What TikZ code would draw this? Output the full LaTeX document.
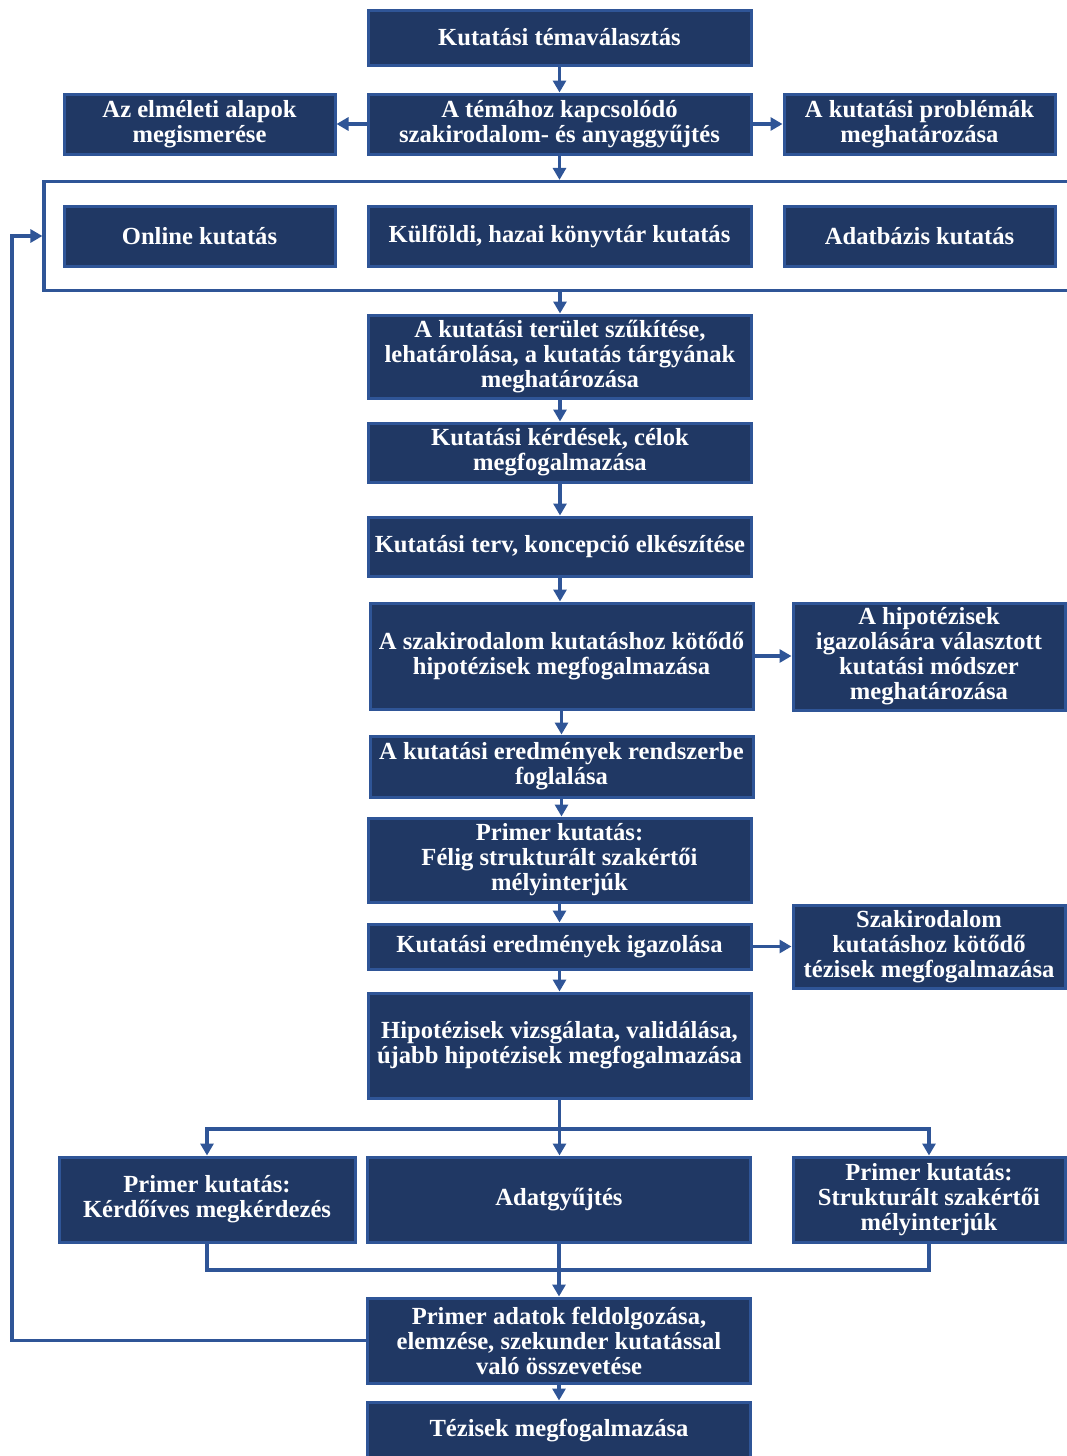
\documentclass[tikz,border=0pt]{standalone}
\usepackage{fontspec}
\setmainfont{Liberation Serif}
\usetikzlibrary{arrows.meta,shadows}
\definecolor{boxfill}{HTML}{203864}
\definecolor{boxline}{HTML}{2F5597}
\definecolor{wire}{HTML}{2F5597}
\definecolor{haze}{HTML}{D3DEF0}

\begin{document}
\begin{tikzpicture}[x=1pt,y=-1pt,
  stepbox/.style={draw=boxline, fill=boxfill, line width=3pt, text=white,
    align=center, inner sep=0pt,
    font=\bfseries\fontsize{24.6}{25}\selectfont,
    drop shadow={shadow xshift=1.5pt, shadow yshift=-2pt, fill=haze, opacity=1}},
  wide/.style={minimum width=383pt},
  side/.style={minimum width=271pt},
  flow/.style={draw=wire, line width=3.2pt, -{Triangle[length=12pt,width=13pt]}},
  link/.style={draw=wire, line width=3.2pt},
]
\useasboundingbox (0,0) rectangle (1067,1456);
\clip (0,0) rectangle (1067,1456);

% --- top: topic choice and literature collection
\node[stepbox, wide, minimum height=55pt] (topic) at (559.5,37.5) {Kutatási témaválasztás};
\node[stepbox, wide, minimum height=60pt] (lit) at (559.5,124) {A témához kapcsolódó\\szakirodalom- és anyaggyűjtés};
\node[stepbox, side, minimum height=60pt] (theory) at (199.5,124) {Az elméleti alapok\\megismerése};
\node[stepbox, side, minimum height=60pt] (problems) at (919.5,124) {A kutatási problémák\\meghatározása};

% --- frame around the three research channels
\node[draw=wire, line width=3.2pt, inner sep=0pt, minimum width=1032pt, minimum height=109pt] (frame) at (560,236) {};
\node[stepbox, side, minimum height=60pt] (online) at (199.5,236) {Online kutatás};
\node[stepbox, wide, minimum height=60pt] (library) at (559.5,236) {Külföldi, hazai könyvtár kutatás};
\node[stepbox, side, minimum height=60pt] (database) at (919.5,236) {Adatbázis kutatás};

% --- main column
\node[stepbox, wide, minimum height=83pt] (narrowing) at (560,356.5) {A kutatási terület szűkítése,\\lehatárolása, a kutatás tárgyának\\meghatározása};
\node[stepbox, wide, minimum height=59pt] (questions) at (560,452.5) {Kutatási kérdések, célok\\megfogalmazása};
\node[stepbox, wide, minimum height=59pt] (plan) at (560,546.5) {Kutatási terv, koncepció elkészítése};
\node[stepbox, wide, minimum height=106pt] (hypo) at (561.5,656) {A szakirodalom kutatáshoz kötődő\\hipotézisek megfogalmazása};
\node[stepbox, minimum width=272pt, minimum height=107pt] (method) at (929,656.5) {A hipotézisek\\igazolására választott\\kutatási módszer\\meghatározása};
\node[stepbox, wide, minimum height=61pt] (system) at (561.5,766.5) {A kutatási eredmények rendszerbe\\foglalása};
\node[stepbox, wide, minimum height=84pt] (semi) at (559.5,860) {Primer kutatás:\\Félig strukturált szakértői\\mélyinterjúk};
\node[stepbox, wide, minimum height=45pt] (verify) at (559.5,946.5) {Kutatási eredmények igazolása};
\node[stepbox, minimum width=272pt, minimum height=83pt] (litthesis) at (929,946.5) {Szakirodalom\\kutatáshoz kötődő\\tézisek megfogalmazása};
\node[stepbox, wide, minimum height=105pt] (testing) at (559.5,1045.5) {Hipotézisek vizsgálata, validálása,\\újabb hipotézisek megfogalmazása};

% --- data collection branches
\node[stepbox, minimum width=296pt, minimum height=85pt] (survey) at (207,1199.5) {Primer kutatás:\\Kérdőíves megkérdezés};
\node[stepbox, wide, minimum height=85pt] (data) at (559,1199.5) {Adatgyűjtés};
\node[stepbox, minimum width=272pt, minimum height=85pt] (structured) at (929,1199.5) {Primer kutatás:\\Strukturált szakértői\\mélyinterjúk};

% --- processing and theses
\node[stepbox, wide, minimum height=85pt] (process) at (559,1340.5) {Primer adatok feldolgozása,\\elemzése, szekunder kutatással\\való összevetése};
\node[stepbox, wide, minimum height=58pt] (theses) at (559,1431) {Tézisek megfogalmazása};

% --- connectors
\draw[flow] (topic.south) -- (lit.north);
\draw[flow] (lit.west) -- (theory.east);
\draw[flow] (lit.east) -- (problems.west);
\draw[flow] (lit.south) -- (lit.south |- frame.north);
\draw[flow] (narrowing.north |- frame.south) -- (narrowing.north);
\draw[flow] (narrowing.south) -- (narrowing.south |- questions.north);
\draw[flow] (questions.south) -- (questions.south |- plan.north);
\draw[flow] (plan.south) -- (plan.south |- hypo.north);
\draw[flow] (hypo.east) -- (hypo.east -| method.west);
\draw[flow] (hypo.south) -- (hypo.south |- system.north);
\draw[flow] (system.south) -- (system.south |- semi.north);
\draw[flow] (semi.south) -- (semi.south |- verify.north);
\draw[flow] (verify.east) -- (litthesis.west);
\draw[flow] (verify.south) -- (verify.south |- testing.north);

\coordinate (split) at (559.5,1129);
\draw[link] (testing.south) -- (split);
\draw[flow] (split) -| (survey.north);
\draw[flow] (split) -| (structured.north);
\draw[flow] (split) -- (split |- data.north);

\coordinate (merge) at (559,1270);
\draw[link] (survey.south) |- (merge) -| (structured.south);
\draw[flow] (data.south) -- (data.south |- process.north);
\draw[flow] (process.south) -- (process.south |- theses.north);

\coordinate (backlow) at (12,1340.5);
\coordinate (backhigh) at (12,236);
\draw[flow] (process.west) -- (backlow) -- (backhigh) -- (frame.west);
\end{tikzpicture}
\end{document}
